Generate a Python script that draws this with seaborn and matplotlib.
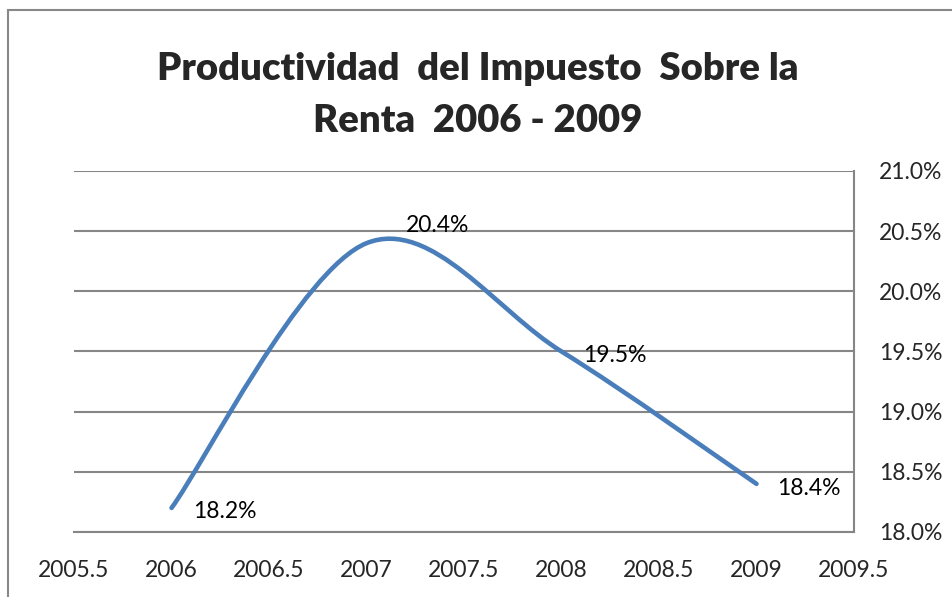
import numpy as np
import seaborn as sns
import matplotlib.pyplot as plt
from matplotlib.path import Path
from matplotlib.patches import PathPatch, Rectangle
from matplotlib.ticker import FuncFormatter

# data
years = [2006, 2007, 2008, 2009]
productividad = [18.2, 20.4, 19.5, 18.4]
etiquetas = ['18.2%', '20.4%', '19.5%', '18.4%']
xticks = [2005.5, 2006, 2006.5, 2007, 2007.5, 2008, 2008.5, 2009, 2009.5]
yticks = [18.0, 18.5, 19.0, 19.5, 20.0, 20.5, 21.0]

sns.set_style('white')
plt.rcParams['font.family'] = ['Lato', 'DejaVu Sans']

fig = plt.figure(figsize=(9.53, 5.97), dpi=100)
ax = fig.add_axes([0.0777, 0.1089, 0.8184, 0.6047])

# smoothed line like excel (catmull-rom as bezier)
pts = np.column_stack([years, productividad]).astype(float)
ext = np.vstack([pts[0], pts, pts[-1]])
verts = [tuple(pts[0])]
codes = [Path.MOVETO]
for i in range(1, len(ext) - 2):
    p0, p1, p2, p3 = ext[i - 1], ext[i], ext[i + 1], ext[i + 2]
    verts += [tuple(p1 + (p2 - p0) / 6), tuple(p2 - (p3 - p1) / 6), tuple(p2)]
    codes += [Path.CURVE4] * 3
ax.add_patch(PathPatch(Path(verts, codes), fill=False, edgecolor='#4a7ebb',
                       lw=3.3, capstyle='round', joinstyle='round', zorder=3))

# data labels
offsets = [(22, -4), (39, 18), (22, -4), (21, -5)]
for x, y, t, off in zip(years, productividad, etiquetas, offsets):
    ax.annotate(t, (x, y), xytext=off, textcoords='offset pixels',
                ha='left', va='center', fontsize=16.5, color='black')

ax.set_xlim(2005.5, 2009.5)
ax.set_ylim(18, 21)
ax.set_xticks(xticks)
ax.set_yticks(yticks)
ax.xaxis.set_major_formatter(FuncFormatter(lambda v, p: '{:g}'.format(v)))
ax.yaxis.set_major_formatter(FuncFormatter(lambda v, p: '{:.1f}%'.format(v)))
ax.yaxis.tick_right()
ax.tick_params(axis='x', length=0, pad=20, labelsize=16.5)
ax.tick_params(axis='y', length=0, pad=18, labelsize=16.5)
ax.grid(axis='y', color='#868686', lw=1.5)
ax.grid(axis='x', visible=False)
for s in ['left', 'top']:
    ax.spines[s].set_visible(False)
for s in ['right', 'bottom']:
    ax.spines[s].set_color('#868686')
    ax.spines[s].set_linewidth(1.5)

fig.text(0.5017, 0.885, 'Productividad  del Impuesto  Sobre la', ha='center',
         va='center', fontsize=27.5, fontweight='heavy')
fig.text(0.5017, 0.798, 'Renta  2006 - 2009', ha='center', va='center',
         fontsize=27.5, fontweight='heavy')

# chart area border
fig.patches.append(Rectangle((8 / 953, -0.1), 1.2, 1.1 - 10 / 597, transform=fig.transFigure,
                             fill=False, edgecolor='#888888', lw=1.5))

plt.savefig('out.png')
